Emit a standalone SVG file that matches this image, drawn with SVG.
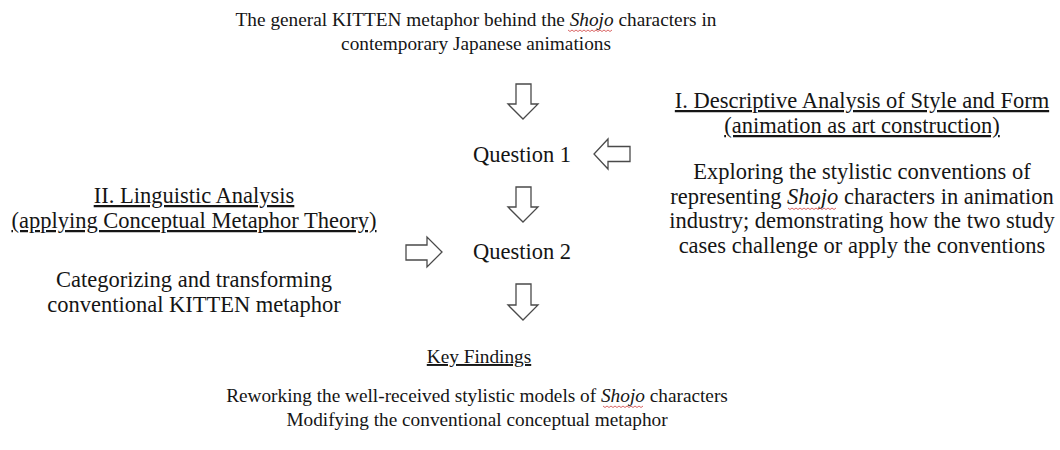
<svg xmlns="http://www.w3.org/2000/svg" width="1060" height="450" viewBox="0 0 1060 450">
<style>
text{font-family:"Liberation Serif","Times New Roman",serif;fill:#151515;text-anchor:middle}
.s{font-size:19.3px}
.b{font-size:22.5px}
.u{text-decoration:underline}
.arr{fill:#fff;stroke:#4a4a4a;stroke-width:1.3;stroke-linejoin:miter}
.sq{fill:none;stroke:#d04040;stroke-width:0.8}
</style>
<rect width="1060" height="450" fill="#fff"/>
<g id="title">
<text class="s" x="476" y="26">The general KITTEN metaphor behind the <tspan font-style="italic">Shojo</tspan> characters in</text>
<text class="s" x="476" y="50">contemporary Japanese animations</text>
<path class="sq" d="M568 30 l2 1.5 l2 -1.5 l2 1.5 l2 -1.5 l2 1.5 l2 -1.5 l2 1.5 l2 -1.5 l2 1.5 l2 -1.5 l2 1.5 l2 -1.5 l2 1.5 l2 -1.5 l2 1.5 l2 -1.5 l2 1.5 l2 -1.5 l2 1.5 l2 -1.5 l2 1.5 l2 -1.5"/>
</g>
<g id="question1"><text class="b" x="522" y="162">Question 1</text></g>
<g id="question2"><text class="b" x="522" y="259">Question 2</text></g>
<g id="descriptive">
<text class="b u" x="862" y="108">I. Descriptive Analysis of Style and Form</text>
<text class="b u" x="862" y="133">(animation as art construction)</text>
<text class="b" x="862" y="179">Exploring the stylistic conventions of</text>
<text class="b" x="862" y="204">representing <tspan font-style="italic">Shojo</tspan> characters in animation</text>
<text class="b" x="862" y="228">industry; demonstrating how the two study</text>
<text class="b" x="862" y="253">cases challenge or apply the conventions</text>
<path class="sq" d="M788 208 l2 1.5 l2 -1.5 l2 1.5 l2 -1.5 l2 1.5 l2 -1.5 l2 1.5 l2 -1.5 l2 1.5 l2 -1.5 l2 1.5 l2 -1.5 l2 1.5 l2 -1.5 l2 1.5 l2 -1.5 l2 1.5 l2 -1.5 l2 1.5 l2 -1.5 l2 1.5 l2 -1.5 l2 1.5 l2 -1.5"/>
</g>
<g id="linguistic">
<text class="b u" x="194" y="203">II. Linguistic Analysis</text>
<text class="b u" x="194" y="228">(applying Conceptual Metaphor Theory)</text>
<text class="b" x="194" y="287">Categorizing and transforming</text>
<text class="b" x="194" y="312">conventional KITTEN metaphor</text>
</g>
<g id="keyfindings">
<text class="s u" x="479" y="363">Key Findings</text>
</g>
<g id="findings">
<text class="s" x="477" y="402">Reworking the well-received stylistic models of <tspan font-style="italic">Shojo</tspan> characters</text>
<text class="s" x="477" y="426">Modifying the conventional conceptual metaphor</text>
<path class="sq" d="M603 406 l2 1.5 l2 -1.5 l2 1.5 l2 -1.5 l2 1.5 l2 -1.5 l2 1.5 l2 -1.5 l2 1.5 l2 -1.5 l2 1.5 l2 -1.5 l2 1.5 l2 -1.5 l2 1.5 l2 -1.5 l2 1.5 l2 -1.5 l2 1.5 l2 -1.5"/>
</g>
<g id="connectors">
<path class="arr" d="M516 84 H531 V104 H538 L523 119 L508 104 H516 Z"/>
<path class="arr" d="M516 187 H531 V207 H538 L523 222 L508 207 H516 Z"/>
<path class="arr" d="M516 284 H531 V305 H538 L523 320 L508 305 H516 Z"/>
<path class="arr" d="M630 146.5 V161.5 H608 V169 L594 154 L608 139 V146.5 Z"/>
<path class="arr" d="M406 245 V260 H427 V267 L442 252 L427 237 V245 Z"/>
</g>
</svg>
